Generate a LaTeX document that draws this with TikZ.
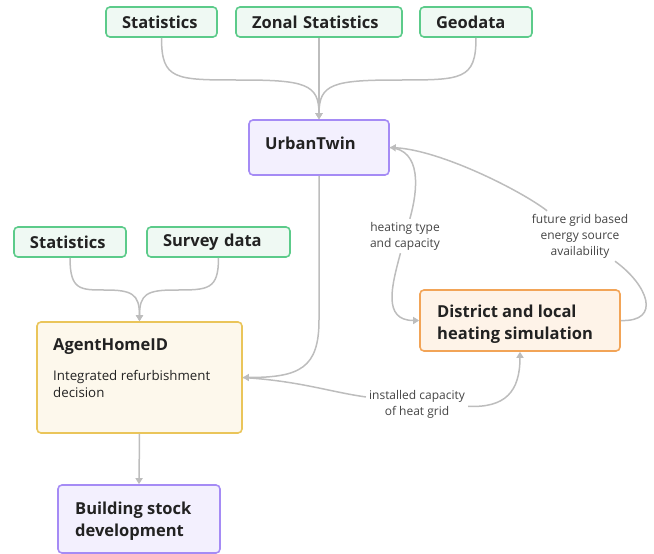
\documentclass[tikz,border=0pt]{standalone}
\usepackage{fontspec}
\setmainfont{Open Sans}
\usetikzlibrary{arrows.meta,calc}

\definecolor{grnB}{HTML}{5CCB8A}
\definecolor{grnF}{HTML}{EFF9F3}
\definecolor{purB}{HTML}{A58BF5}
\definecolor{purF}{HTML}{F3F0FE}
\definecolor{ylwB}{HTML}{EAC55A}
\definecolor{ylwF}{HTML}{FDF8EC}
\definecolor{orgB}{HTML}{F2A457}
\definecolor{orgF}{HTML}{FEF3E8}
\definecolor{edgeC}{HTML}{BDBDBD}
\definecolor{ink}{HTML}{222222}
\definecolor{lblInk}{HTML}{444444}

\begin{document}
\begin{tikzpicture}[x=1pt,y=-1pt,
  box/.style={draw, rounded corners=4pt, line width=1.6pt, inner sep=0pt},
  srcbox/.style={box, draw=grnB, fill=grnF, minimum height=30pt, text=ink,
    inner xsep=16pt, align=left,
    font=\bfseries\fontsize{16.5}{18}\selectfont},
  twinbox/.style={box, draw=purB, fill=purF},
  agentbox/.style={box, draw=ylwB, fill=ylwF},
  heatbox/.style={box, draw=orgB, fill=orgF},
  % base anchor of a multi-line node sits on its last line
  title/.style={anchor=base west, inner sep=0pt, align=left, text=ink,
    font=\bfseries\fontsize{16.5}{22.5}\selectfont},
  body/.style={anchor=base west, inner sep=0pt, align=left, text=ink,
    font=\fontsize{13.3}{17}\selectfont},
  elabel/.style={inner sep=3pt, align=center, text=lblInk,
    font=\fontsize{12}{16}\selectfont},
  flow/.style={draw=edgeC, line width=1.5pt,
    -{Triangle[length=6pt,width=7pt]}},
]
\useasboundingbox (0,0) rectangle (654,554);

% data sources for the digital twin (text width = box width - 32pt)
\node[srcbox, text width=79pt]  (stat1) at (161.5,22) {Statistics};
\node[srcbox, text width=134pt] (zonal) at (319,22) {Zonal Statistics};
\node[srcbox, text width=80pt]  (geo)   at (476,22) {Geodata};

% urban twin
\node[twinbox, minimum width=140pt, minimum height=55pt] (ut) at (319,147.5) {};
\node[title] (utT) at (265,149.5) {UrbanTwin};

% data sources for the agent model
\node[srcbox, text width=80pt]  (stat2)  at (70,242) {Statistics};
\node[srcbox, text width=111pt] (survey) at (218.5,242) {Survey data};

% agent based refurbishment model
\node[agentbox, minimum width=205pt, minimum height=111pt] (ah) at (139.5,377.5) {};
\node[title] (ahT) at (53,350) {AgentHomeID};
\node[body] (ahB) at (53,397) {Integrated refurbishment\\decision};

% heating simulation
\node[heatbox, minimum width=200pt, minimum height=61pt] (dh) at (520,320.5) {};
\node[title] (dhT) at (437,339.5) {District and local\\heating simulation};

% resulting building stock
\node[twinbox, minimum width=162pt, minimum height=68pt] (bs) at (139,519) {};
\node[title] (bsT) at (75,536.5) {Building stock\\development};

% edge labels
\node[elabel] (lHeat) at (405,236) {heating type\\and capacity};
\node[elabel] (lGrid) at (580,236) {future grid based\\energy source\\availability};
\node[elabel] (lCap)  at (417,404) {installed capacity\\of heat grid};

% inputs of the urban twin
\draw[flow] (stat1.south) .. controls (161.5,80) and (175,80) .. (240,80)
  .. controls (305,80) and (319,84) .. (ut.north);
\draw[flow] (zonal.south) -- (ut.north);
\draw[flow] (geo.south) .. controls (476,80) and (462,80) .. (398,80)
  .. controls (333,80) and (319,84) .. (ut.north);

% inputs of the agent model
\draw[flow] (stat2.south) .. controls (70,290) and (80,290) .. (105,290)
  .. controls (132,290) and (139.5,294) .. (ah.north);
\draw[flow] (survey.south) .. controls (218.5,290) and (208,290) .. (175,290)
  .. controls (147,290) and (139.5,294) .. (ah.north);

% urban twin to agent model
\draw[flow] (ut.south) -- (319,320) .. controls (319,368) and (300,377.5) .. (ah.east);

% agent model to heating simulation
\draw[draw=edgeC, line width=1.5pt] (ah.east) .. controls (300,381) and (330,392) .. (lCap);
\draw[flow] (lCap) .. controls (505,408) and (520,392) .. (dh.south);

% urban twin to heating simulation
\draw[draw=edgeC, line width=1.5pt] (ut.east) .. controls (422,150) and (418,190) .. (lHeat);
\draw[flow] (lHeat) .. controls (392,285) and (382,320.5) .. (dh.west);

% heating simulation back to urban twin
\draw[draw=edgeC, line width=1.5pt] (dh.east) .. controls (662,322) and (648,285) .. (lGrid);
\draw[flow] (lGrid) .. controls (520,190) and (440,150) .. (ut.east);

% building stock outcome
\draw[flow] (ah.south) -- (bs.north);
\end{tikzpicture}
\end{document}
